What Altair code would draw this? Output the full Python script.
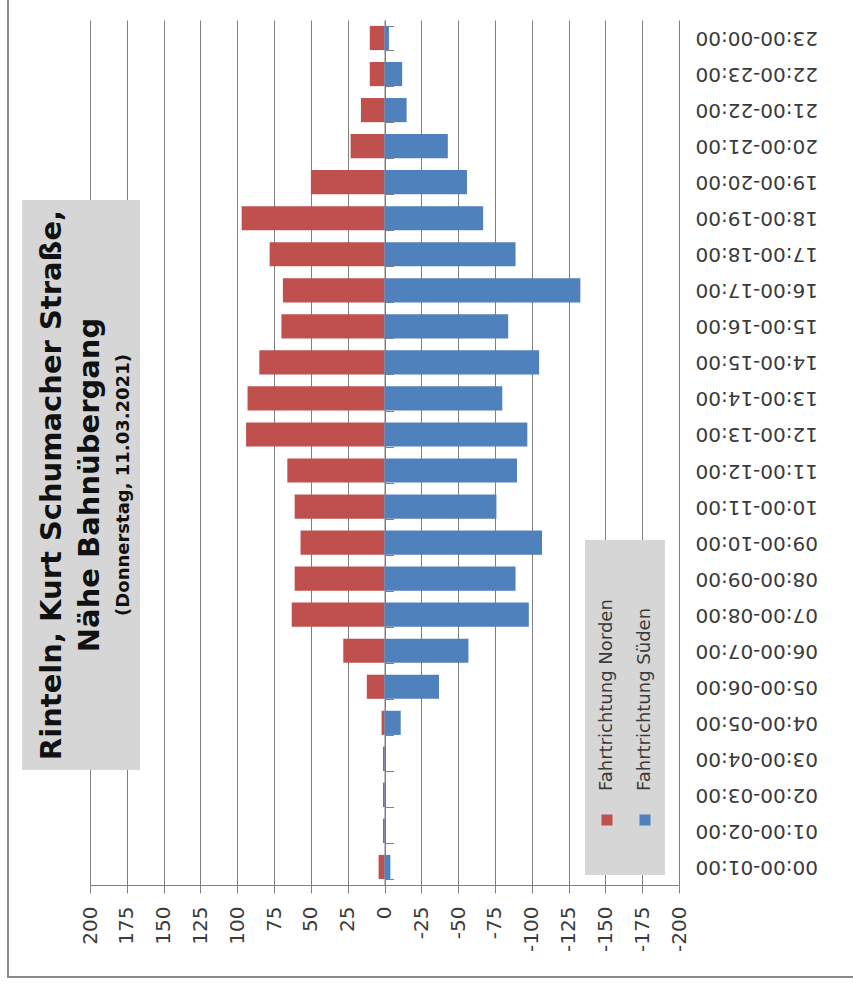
import altair as alt
import pandas as pd

# Hourly counts, Rinteln Kurt-Schumacher-Straße (Thursday 11.03.2021)
hours = [
    "00:00-01:00", "01:00-02:00", "02:00-03:00", "03:00-04:00",
    "04:00-05:00", "05:00-06:00", "06:00-07:00", "07:00-08:00",
    "08:00-09:00", "09:00-10:00", "10:00-11:00", "11:00-12:00",
    "12:00-13:00", "13:00-14:00", "14:00-15:00", "15:00-16:00",
    "16:00-17:00", "17:00-18:00", "18:00-19:00", "19:00-20:00",
    "20:00-21:00", "21:00-22:00", "22:00-23:00", "23:00-00:00",
]
norden = [4, 1, 1, 1, 2, 12, 28, 63, 61, 57, 61, 66,
          94, 93, 85, 70, 69, 78, 97, 50, 23, 16, 10, 10]
sueden = [-4, -1, -1, -1, -11, -37, -57, -98, -89, -107, -76, -90,
          -97, -80, -105, -84, -133, -89, -67, -56, -43, -15, -12, -3]

series_names = ["Fahrtrichtung Norden", "Fahrtrichtung Süden"]
series_colors = ["#C0504D", "#4F81BD"]
axis_ticks = list(range(-200, 201, 25))

title_lines = [
    "Rinteln, Kurt Schumacher Straße,",
    "Nähe Bahnübergang",
    "(Donnerstag, 11.03.2021)",
]

df = pd.DataFrame({
    "hour": hours * 2,
    "count": norden + sueden,
    "direction": [series_names[0]] * len(hours) + [series_names[1]] * len(hours),
})

W, H = 589, 865
GRID = "#808080"
LABEL = "#3a3a3a"
hour_order = list(reversed(hours))
band = alt.Scale(paddingInner=0.33, paddingOuter=0.165)
one = pd.DataFrame({"k": [0]})

# outer frame of the figure
frame = alt.Chart(one).mark_rect(fill=None, stroke="#8a8a8a", strokeWidth=2).encode(
    x=alt.value(-82), x2=alt.value(820), y=alt.value(-40), y2=alt.value(957)
)

bars = alt.Chart(df).mark_bar().encode(
    x=alt.X(
        "count:Q",
        scale=alt.Scale(domain=[-200, 200], reverse=True, nice=False),
        axis=alt.Axis(
            values=axis_ticks, title=None, grid=True, gridColor=GRID, gridWidth=1,
            domainColor=GRID, domainWidth=1, tickColor=GRID, tickSize=8,
            labelAngle=270, labelAlign="right", labelBaseline="middle",
            labelPadding=13, labelFont="DejaVu Sans", labelFontSize=20,
            labelColor=LABEL, labelExpr="datum.value + ''", labelOverlap=False,
        ),
    ),
    y=alt.Y(
        "hour:N", sort=hour_order, scale=band,
        axis=alt.Axis(
            orient="right", title=None, domain=False, ticks=False, tickSize=0,
            grid=False, labelAngle=180, labelAlign="right", labelBaseline="middle",
            labelPadding=16, labelFont="DejaVu Sans", labelFontSize=20,
            labelColor=LABEL, labelOverlap=False,
        ),
    ),
    color=alt.Color("direction:N",
                    scale=alt.Scale(domain=series_names, range=series_colors),
                    legend=None),
)

# category axis crossing at zero, with tick marks between the hours
zero_axis = alt.Chart(df).mark_point(opacity=0).encode(
    x=alt.value(W / 2),
    y=alt.Y(
        "hour:N", sort=hour_order, scale=band,
        axis=alt.Axis(
            orient="right", offset=-W / 2, title=None, labels=False, grid=False,
            domain=True, domainColor=GRID, domainWidth=1,
            ticks=True, tickBand="extent", tickSize=9, tickColor=GRID,
        ),
    ),
)

# title block
title_box = alt.Chart(one).mark_rect(fill="#D6D6D6").encode(
    x=alt.value(-68), x2=alt.value(50), y=alt.value(180), y2=alt.value(750)
)
title_specs = [(title_lines[0], -38, 29), (title_lines[1], 0, 29), (title_lines[2], 34, 18)]
title_layers = [
    alt.Chart(pd.DataFrame({"t": [txt]})).mark_text(
        angle=270, align="center", baseline="middle", font="DejaVu Sans",
        fontWeight="bold", fontSize=size, color="#111111",
    ).encode(text="t:N", x=alt.value(xpos), y=alt.value(465))
    for txt, xpos, size in title_specs
]

# legend block
legend_box = alt.Chart(one).mark_rect(fill="#D6D6D6").encode(
    x=alt.value(495), x2=alt.value(575), y=alt.value(520), y2=alt.value(855)
)
legend_layers = []
for name, color, xpos in zip(series_names, series_colors, [517, 555]):
    legend_layers.append(
        alt.Chart(one).mark_square(size=121, color=color, opacity=1).encode(
            x=alt.value(xpos), y=alt.value(800)
        )
    )
    legend_layers.append(
        alt.Chart(pd.DataFrame({"t": [name]})).mark_text(
            angle=270, align="left", baseline="middle", font="DejaVu Sans",
            fontSize=18, color=LABEL,
        ).encode(text="t:N", x=alt.value(xpos), y=alt.value(771))
    )

chart = alt.layer(
    frame, title_box, bars, zero_axis, legend_box, *legend_layers, *title_layers
).resolve_axis(y="independent").properties(
    width=W, height=H,
    autosize=alt.AutoSizeParams(type="none"),
    padding={"left": 90, "top": 20, "right": 174, "bottom": 103},
    background="white",
).configure_view(stroke=None)

chart.save("out.html", embed_options={"renderer": "svg", "actions": False})
